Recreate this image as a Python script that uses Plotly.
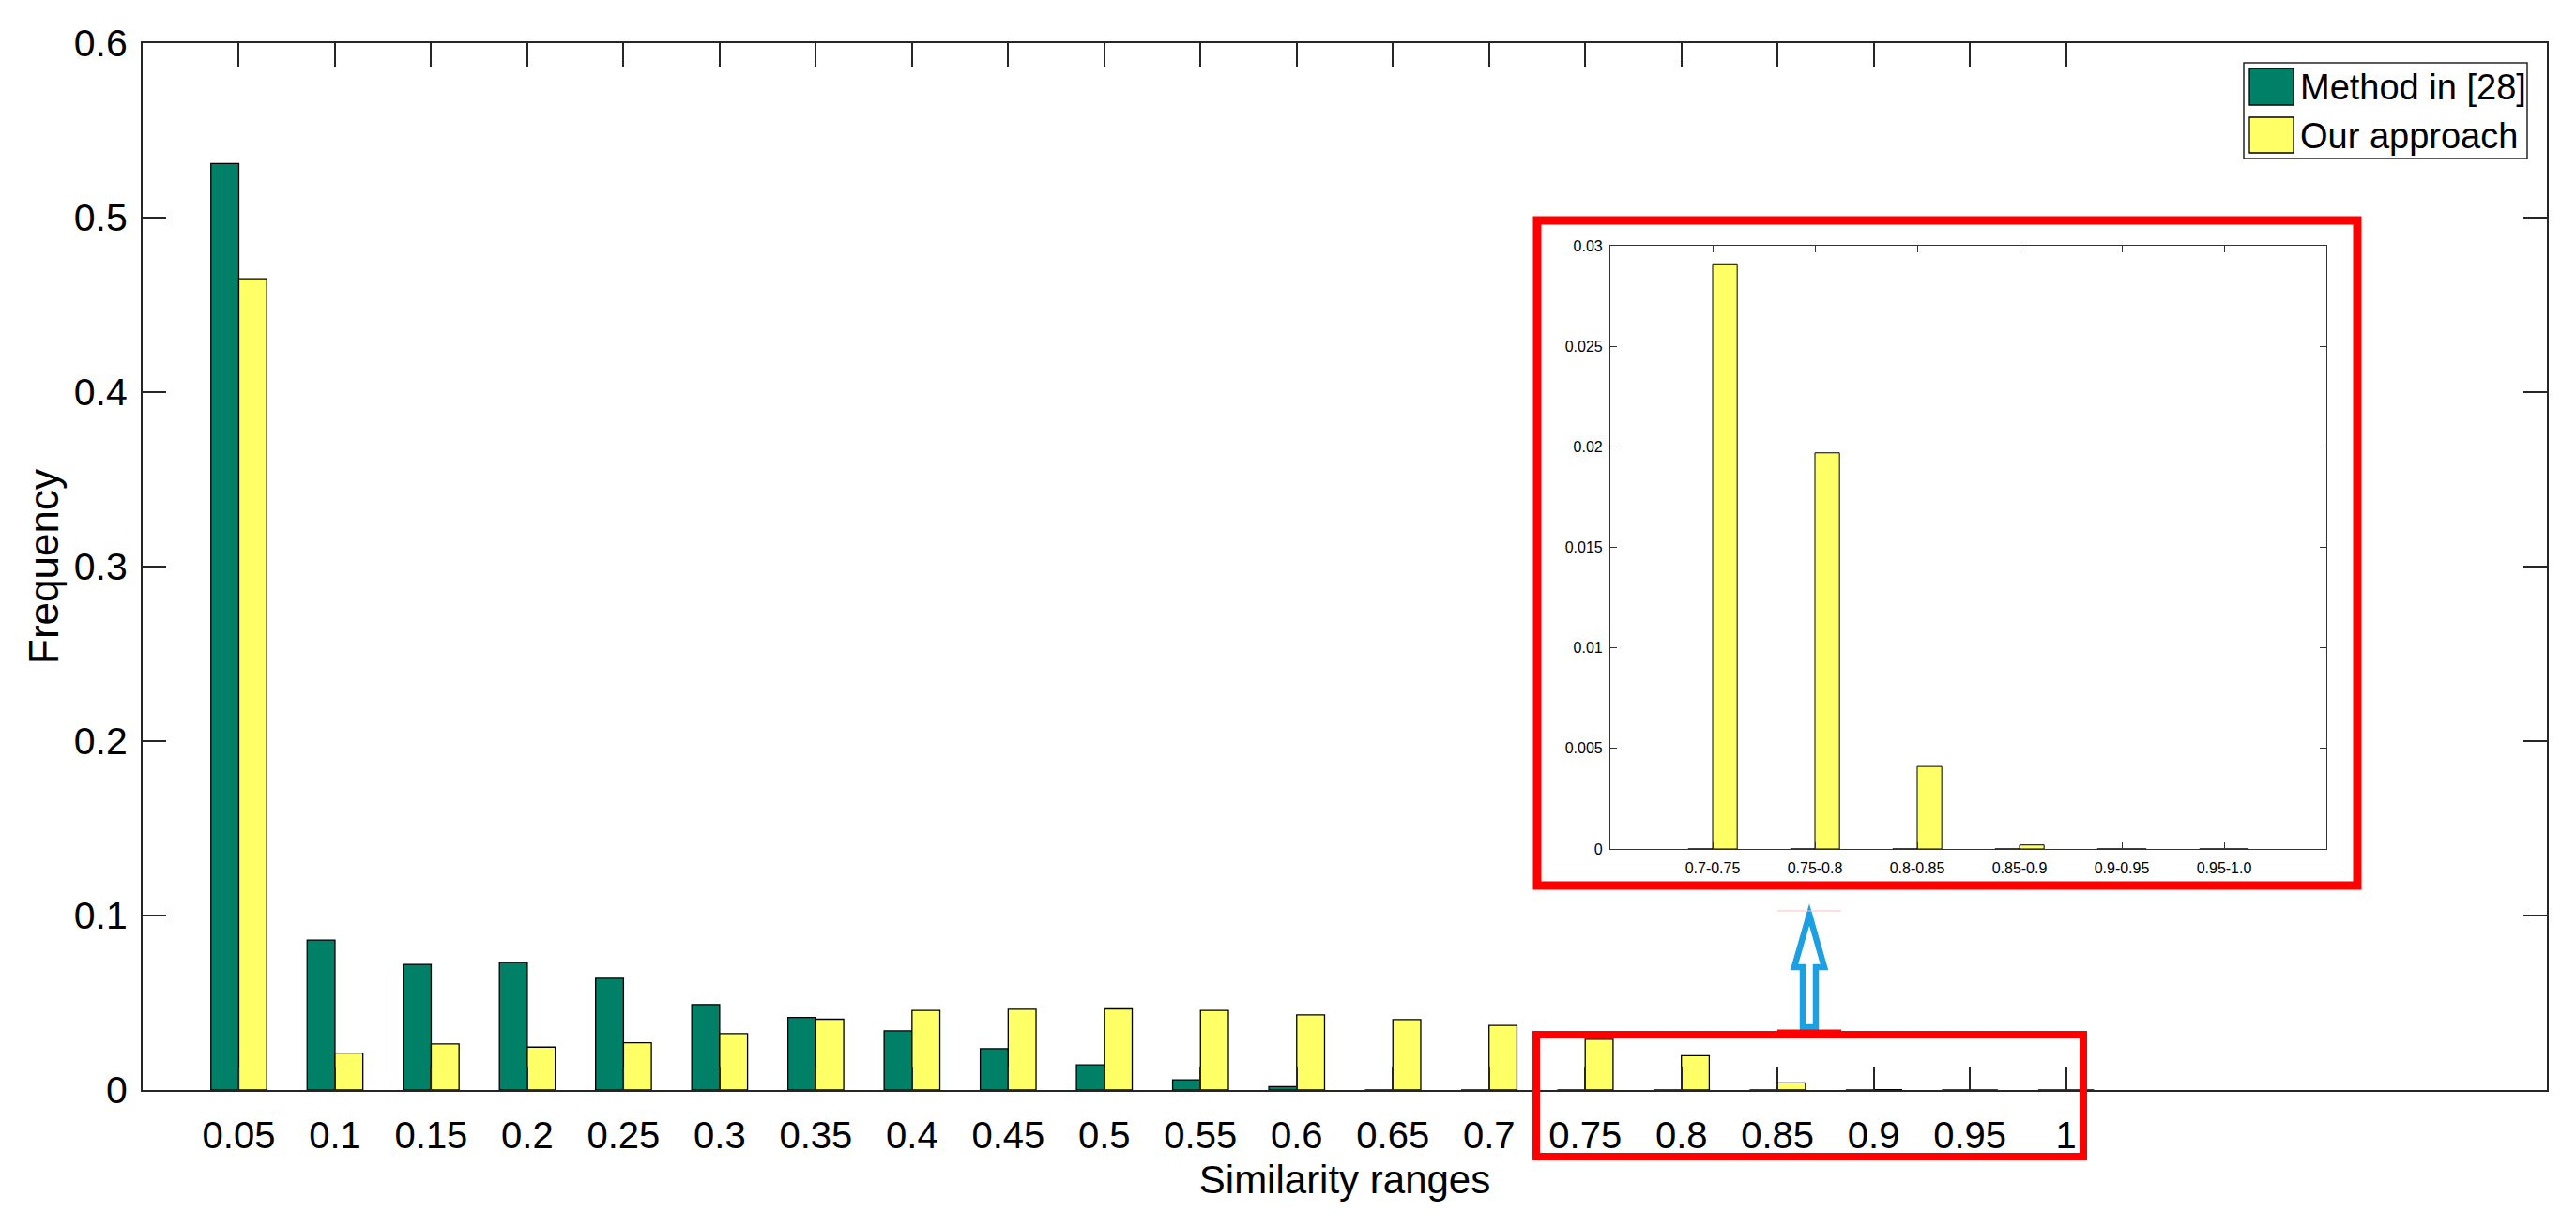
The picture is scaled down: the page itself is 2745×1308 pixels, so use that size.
import plotly.graph_objects as go

# ---------------- data ----------------
categories = ["0.05", "0.1", "0.15", "0.2", "0.25", "0.3", "0.35", "0.4", "0.45", "0.5",
              "0.55", "0.6", "0.65", "0.7", "0.75", "0.8", "0.85", "0.9", "0.95", "1"]
method28 = [0.531, 0.086, 0.072, 0.073, 0.064, 0.049, 0.0416, 0.0339, 0.0237, 0.0144,
            0.0059, 0.0020, 0.0, 0.0, 0.0, 0.0, 0.0, 0.0, 0.0, 0.0]
our_approach = [0.465, 0.0212, 0.0264, 0.0246, 0.0271, 0.0323, 0.0406, 0.0456, 0.0463, 0.0465,
                0.0456, 0.0431, 0.0404, 0.0370, 0.0291, 0.0197, 0.0041, 0.0002, 0.0, 0.0]

inset_categories = ["0.7-0.75", "0.75-0.8", "0.8-0.85", "0.85-0.9", "0.9-0.95", "0.95-1.0"]
inset_method28 = method28[14:20]
inset_our = our_approach[14:20]

main_yticks = [0, 0.1, 0.2, 0.3, 0.4, 0.5, 0.6]
inset_yticks = [0, 0.005, 0.01, 0.015, 0.02, 0.025, 0.03]
inset_ytick_text = ["0", "0.005", "0.01", "0.015", "0.02", "0.025", "0.03"]

series_names = ["Method in [28]", "Our approach"]

# ---------------- style / geometry (page pixel coordinates) ----------------
ORG = 8  # default page body margin
PAGE_W, PAGE_H = 2745, 1308
W, H = PAGE_W - ORG, PAGE_H - ORG
AX_L, AX_R, AX_T, AX_B = 152, 2714, 46, 1162
ML, MR, MT = AX_L - ORG, PAGE_W - AX_R, AX_T - ORG
MB = H - (AX_B - ORG)
PW, PH = W - ML - MR, H - MT - MB
GREEN = "rgb(0,128,102)"
YELLOW = "rgb(255,255,102)"
RED = "rgb(255,0,0)"
BLUE = "rgb(28,160,226)"
FONT = "Liberation Sans, Arial, sans-serif"
AX = "#262626"


def px(x):
    return (x - AX_L) / PW


def py(y):
    return (AX_B - y) / PH


main_x = list(range(1, len(categories) + 1))
inset_x = list(range(1, len(inset_categories) + 1))

fig = go.Figure()
fig.add_trace(go.Bar(x=main_x, y=method28, name=series_names[0], width=0.29, offset=-0.29,
                     marker=dict(color=GREEN, line=dict(color="black", width=1.3)),
                     showlegend=False))
fig.add_trace(go.Bar(x=main_x, y=our_approach, name=series_names[1], width=0.29, offset=0,
                     marker=dict(color=YELLOW, line=dict(color="black", width=1.3)),
                     showlegend=False))
fig.add_trace(go.Bar(x=inset_x, y=inset_method28, name=series_names[0], width=0.24, offset=-0.24,
                     marker=dict(color=GREEN, line=dict(color="black", width=1)),
                     showlegend=False, xaxis="x2", yaxis="y2"))
fig.add_trace(go.Bar(x=inset_x, y=inset_our, name=series_names[1], width=0.24, offset=0,
                     marker=dict(color=YELLOW, line=dict(color="black", width=1)),
                     showlegend=False, xaxis="x2", yaxis="y2"))

shapes = []
# red highlight boxes
shapes.append(dict(type="rect", xref="paper", yref="paper", x0=px(1638), x1=px(2512),
                   y0=py(944), y1=py(235), line=dict(color=RED, width=9), layer="above"))
shapes.append(dict(type="rect", xref="paper", yref="paper", x0=px(1637), x1=px(2220),
                   y0=py(1233), y1=py(1103), line=dict(color=RED, width=8), layer="above"))
# arrow
pts = [(1928, 975), (1944, 1031), (1935, 1031), (1935, 1095), (1921, 1095), (1921, 1031), (1912, 1031)]
path = "M " + " L ".join(f"{px(a):.5f},{py(b):.5f}" for a, b in pts) + " Z"
shapes.append(dict(type="path", xref="paper", yref="paper", path=path,
                   line=dict(color=BLUE, width=6.5), fillcolor="white", layer="above"))
shapes.append(dict(type="line", xref="paper", yref="paper", x0=px(1894), x1=px(1962),
                   y0=py(971), y1=py(971), line=dict(color="rgb(255,190,190)", width=1), layer="above"))
shapes.append(dict(type="line", xref="paper", yref="paper", x0=px(1894), x1=px(1962),
                   y0=py(1100), y1=py(1100), line=dict(color=RED, width=5), layer="above"))
# custom legend
shapes.append(dict(type="rect", xref="paper", yref="paper", x0=px(2391), x1=px(2693),
                   y0=py(169), y1=py(67), line=dict(color=AX, width=1.5), fillcolor="white",
                   layer="above"))
shapes.append(dict(type="rect", xref="paper", yref="paper", x0=px(2397), x1=px(2444),
                   y0=py(112), y1=py(73), line=dict(color="black", width=1.3), fillcolor=GREEN,
                   layer="above"))
shapes.append(dict(type="rect", xref="paper", yref="paper", x0=px(2397), x1=px(2444),
                   y0=py(163), y1=py(125), line=dict(color="black", width=1.3), fillcolor=YELLOW,
                   layer="above"))

annotations = [
    dict(x=px(2449), y=py(93), xref="paper", yref="paper", text=series_names[0], showarrow=False,
         xanchor="left", yanchor="middle", font=dict(family=FONT, size=38, color="black")),
    dict(x=px(2449), y=py(145), xref="paper", yref="paper", text=series_names[1], showarrow=False,
         xanchor="left", yanchor="middle", font=dict(family=FONT, size=38, color="black")),
]

fig.update_layout(
    width=W, height=H,
    margin=dict(l=ML, r=MR, t=MT, b=MB, autoexpand=False),
    paper_bgcolor="white", plot_bgcolor="white",
    barmode="overlay",
    font=dict(family=FONT, color="black"),
    shapes=shapes, annotations=annotations,
    xaxis=dict(range=[0, 25], tickvals=main_x, ticktext=categories,
               ticks="inside", ticklen=25, tickwidth=1.5, tickcolor=AX,
               showline=True, linecolor=AX, linewidth=2, mirror="ticks",
               showgrid=False, zeroline=False, tickfont=dict(size=40, family=FONT),
               ticklabelstandoff=12,
               title=dict(text="Similarity ranges", font=dict(size=42, family=FONT), standoff=12)),
    yaxis=dict(range=[0, 0.6], tickvals=main_yticks,
               ticks="inside", ticklen=25, tickwidth=1.5, tickcolor=AX,
               showline=True, linecolor=AX, linewidth=2, mirror="ticks",
               showgrid=False, zeroline=False, tickfont=dict(size=41, family=FONT),
               ticklabelstandoff=6,
               title=dict(text="Frequency", font=dict(size=44, family=FONT), standoff=2)),
    xaxis2=dict(domain=[px(1716), px(2479)], anchor="y2", range=[0, 7],
                tickvals=inset_x, ticktext=inset_categories,
                ticks="inside", ticklen=7, tickwidth=1, tickcolor="#333",
                showline=True, linecolor="#333", linewidth=1.2, mirror="ticks",
                showgrid=False, zeroline=False, tickfont=dict(size=16, family=FONT),
                ticklabelstandoff=6),
    yaxis2=dict(domain=[py(905), py(262)], anchor="x2", range=[0, 0.03],
                tickvals=inset_yticks, ticktext=inset_ytick_text,
                ticks="inside", ticklen=7, tickwidth=1, tickcolor="#333",
                showline=True, linecolor="#333", linewidth=1.2, mirror="ticks",
                showgrid=False, zeroline=False, tickfont=dict(size=16, family=FONT),
                ticklabelstandoff=4),
)

fig.write_html("out.html")
